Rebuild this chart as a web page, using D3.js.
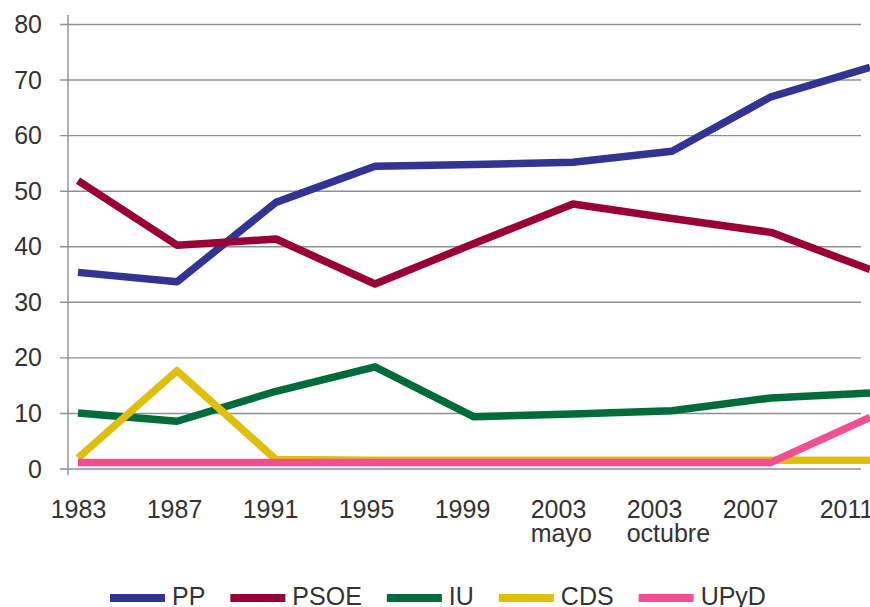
<!DOCTYPE html>
<html>
<head>
<meta charset="utf-8">
<script src="https://cdn.jsdelivr.net/npm/d3@7"></script>
<style>
  body { margin: 0; background: #fff; overflow: hidden; }
  svg { display: block; }
  text { font-family: "Liberation Sans", Arial, sans-serif; fill: #333; }
</style>
</head>
<body>
<div id="chart"></div>
<script>
// datos
const elecciones = ["1983", "1987", "1991", "1995", "1999", "2003|mayo", "2003|octubre", "2007", "2011"];
const PP   = [35.3, 33.6, 47.9, 54.4, 54.7, 55.1, 57.1, 66.9, 72.2];
const PSOE = [51.8, 40.2, 41.3, 33.2, 40.5, 47.6, 45.0, 42.5, 35.8];
const IU   = [10.0, 8.5, 13.9, 18.3, 9.3, 9.8, 10.4, 12.7, 13.6];
const CDS  = [1.9, 17.6, 1.6, 1.5, 1.5, 1.5, 1.5, 1.5, 1.5];
const UPyD = [1.1, 1.1, 1.1, 1.1, 1.1, 1.1, 1.1, 1.1, 9.2];
const yTicks = [0, 10, 20, 30, 40, 50, 60, 70, 80];

const partidos = [
  { nombre: "PP",   valores: PP,   color: "#333393" },
  { nombre: "PSOE", valores: PSOE, color: "#990033" },
  { nombre: "IU",   valores: IU,   color: "#006b3b" },
  { nombre: "CDS",  valores: CDS,  color: "#e0bf0c" },
  { nombre: "UPyD", valores: UPyD, color: "#ef5091" }
];

const W = 870, H = 607;
const svg = d3.select("#chart").append("svg").attr("width", W).attr("height", H);

const y = d3.scaleLinear().domain([0, 80]).range([468.5, 24]);
// las lineas y las etiquetas no caen en el mismo sitio en el original
const xDatos = d3.scalePoint().domain(elecciones).range([78, 870]);
const xEtiq = d3.scalePoint().domain(elecciones).range([78, 846]);

// rejilla
const grid = svg.append("g").attr("transform", "translate(68,0)")
  .call(d3.axisLeft(y).tickValues(yTicks).tickSize(8 - 801).tickFormat(""));
grid.select(".domain").remove();
grid.selectAll(".tick line").attr("stroke", "#8b9095").attr("stroke-width", 1.4)
  .attr("x1", -8).attr("x2", 861 - 68);

svg.append("line").attr("x1", 68).attr("x2", 68).attr("y1", 15).attr("y2", 475)
  .attr("stroke", "#8b9095").attr("stroke-width", 1.4);

// etiquetas eje y
svg.selectAll(".ylab").data(yTicks).enter().append("text")
  .attr("class", "ylab")
  .attr("x", 42).attr("y", d => y(d) + 9)
  .attr("text-anchor", "end")
  .style("font-size", "25px")
  .text(d => d);

// etiquetas eje x
const xAxis = svg.append("g").attr("transform", "translate(0,518)")
  .call(d3.axisBottom(xEtiq).tickSize(0).tickFormat(""));
xAxis.select(".domain").remove();
xAxis.selectAll(".tick").each(function(d) {
  const partes = d.split("|");
  const t = d3.select(this).append("text")
    .attr("y", 0).attr("text-anchor", "middle")
    .style("font-size", "25px")
    .text(partes[0]);
  if (partes.length > 1) {
    const w = t.node().getComputedTextLength();
    d3.select(this).append("text")
      .attr("x", -w / 2).attr("y", 23.5)
      .attr("text-anchor", "start")
      .style("font-size", "25px")
      .text(partes[1]);
  }
});

// lineas
const linea = d3.line()
  .x((d, i) => xDatos(elecciones[i]))
  .y(d => y(d));

svg.selectAll(".serie").data(partidos).enter().append("path")
  .attr("class", "serie")
  .attr("d", d => linea(d.valores))
  .attr("fill", "none")
  .attr("stroke", d => d.color)
  .attr("stroke-width", 7.5)
  .attr("stroke-linejoin", "round");

// leyenda
let lx = 110;
const leyenda = svg.append("g");
partidos.forEach(p => {
  leyenda.append("rect").attr("x", lx).attr("y", 594).attr("width", 55).attr("height", 8)
    .attr("fill", p.color);
  const t = leyenda.append("text").attr("x", lx + 62).attr("y", 605)
    .style("font-size", "25px").text(p.nombre);
  lx += 62 + t.node().getComputedTextLength() + 25;
});
</script>
</body>
</html>
